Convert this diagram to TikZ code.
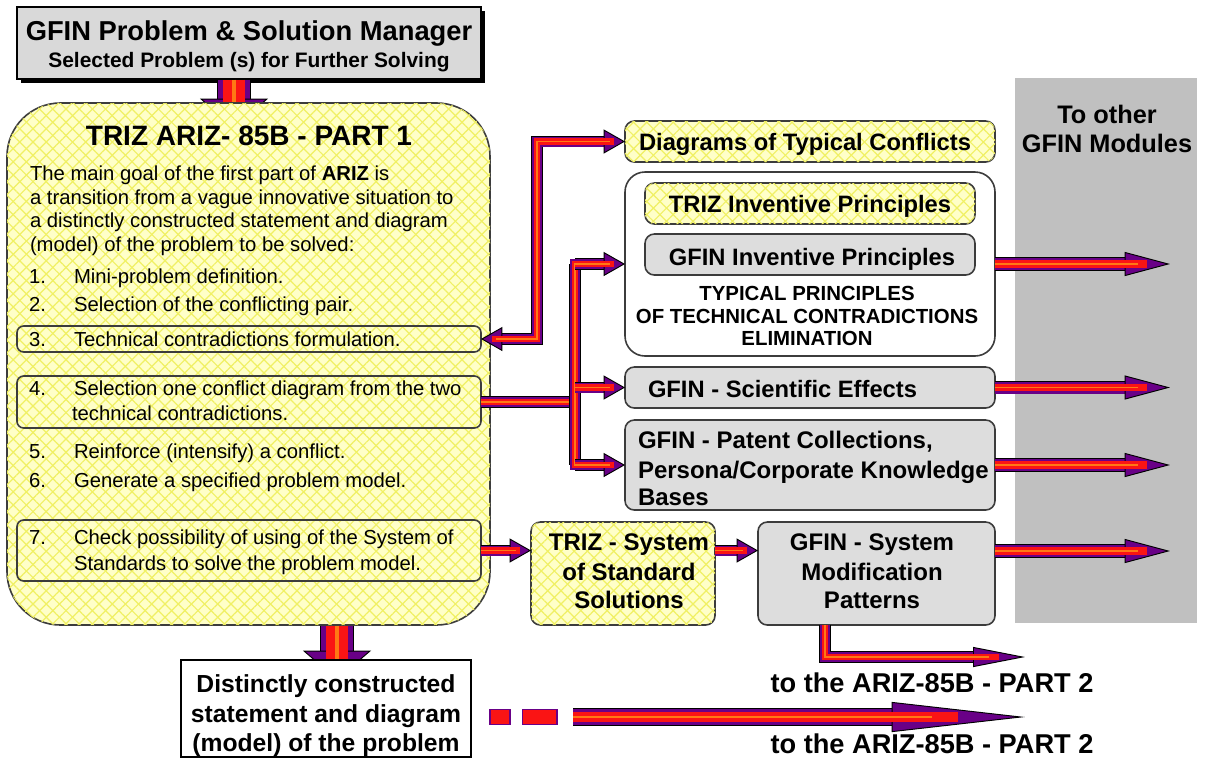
\documentclass[tikz,border=0pt]{standalone}
\usepackage{fontspec}
\setmainfont{Liberation Sans}
\usetikzlibrary{arrows.meta,patterns.meta,shadows}
\definecolor{arrpurple}{RGB}{105,0,135}
\definecolor{arrred}{RGB}{250,20,20}
\definecolor{arrorange}{RGB}{255,120,20}
\definecolor{yelbg}{RGB}{255,255,200}
\definecolor{yelline}{RGB}{240,240,100}
\definecolor{boxgray}{RGB}{221,221,221}
\definecolor{topgray}{RGB}{217,217,217}
\definecolor{bandgray}{RGB}{192,192,192}
\definecolor{edge}{RGB}{60,60,60}
\newcommand{\fTop}{\fontsize{20.5}{24}\selectfont\bfseries}
\newcommand{\fTopSub}{\fontsize{15.7}{18}\selectfont\bfseries}
\newcommand{\fTitle}{\fontsize{21}{26}\selectfont\bfseries}
\newcommand{\fBody}{\fontsize{15.2}{18}\selectfont}
\newcommand{\fBox}{\fontsize{17.8}{21}\selectfont\bfseries}
\newcommand{\fBoxB}{\fontsize{18}{21}\selectfont\bfseries}
\newcommand{\fBoxC}{\fontsize{18.5}{22}\selectfont\bfseries}
\newcommand{\fCaps}{\fontsize{15.3}{18}\selectfont\bfseries}
\newcommand{\fPart}{\fontsize{20.4}{24}\selectfont\bfseries}
\newcommand{\fBand}{\fontsize{19}{23}\selectfont\bfseries}
\tikzset{
  yel/.style={fill=yelbg,
    postaction={pattern={Lines[angle=45,distance=7pt,line width=0.9pt]}, pattern color=yelline},
    postaction={pattern={Lines[angle=-45,distance=7pt,line width=0.9pt]}, pattern color=yelline}},
  box/.style={draw=edge, line width=1.2pt, rounded corners=7pt, inner sep=0pt, outer sep=0pt},
  gbox/.style={box, fill=boxgray},
  ybox/.style={box, yel},
  itembox/.style={draw=edge, line width=1.2pt, rounded corners=5pt, inner sep=0pt, outer sep=0pt,
    minimum width=348pt},
  txt/.style={inner sep=0pt, outer sep=0pt},
  fat/.style n args={3}{draw=arrpurple, line width=#1,
    -{Triangle[length=#2,width=#3,line width=0.7pt,fill=arrpurple,color=black]},
    preaction={draw=black, line width=#1+1.2pt, -, shorten >=#2-0.3pt},
    postaction={draw=arrred, line width=0.66*#1, -, shorten >=0.5*#2},
    postaction={draw=arrorange, line width=0.12*#1, -, shorten >=0.7*#2}},
  fatboth/.style n args={3}{draw=arrpurple, line width=#1,
    {Triangle[length=#2,width=#3,line width=0.7pt,fill=arrpurple,color=black]}-{Triangle[length=#2,width=#3,line width=0.7pt,fill=arrpurple,color=black]},
    preaction={draw=black, line width=#1+1.2pt, -, shorten >=#2-0.3pt, shorten <=#2-0.3pt},
    postaction={draw=arrred, line width=0.66*#1, -, shorten >=0.5*#2, shorten <=0.5*#2},
    postaction={draw=arrorange, line width=0.12*#1, -, shorten >=0.7*#2, shorten <=0.7*#2}},
  fatline/.style={draw=arrpurple, line width=#1,
    preaction={draw=black, line width=#1+1.2pt},
    postaction={draw=arrred, line width=0.66*#1},
    postaction={draw=arrorange, line width=0.12*#1}},
  shortarr/.style={fat={7.5pt}{16pt}{18pt}},
  longarr/.style={fat={9pt}{34pt}{18pt}},
  downarr/.style={fat={24pt}{22pt}{51pt}},
  dashbox/.style={fill=arrred, draw=arrpurple, line width=1pt, inner sep=0pt, minimum height=11pt},
}
\begin{document}
\begin{tikzpicture}[x=0.75pt,y=-0.75pt]
\useasboundingbox (0,0) rectangle (1206,769);

% band
\node[fill=bandgray, inner sep=0pt, minimum width=136.5pt, minimum height=408.75pt] (band) at (1106,350.5) {};
\node[txt, anchor=base, font=\fBand] (bandt1) at (1107,123) {To other};
\node[txt, anchor=base, font=\fBand] (bandt2) at (1107,152) {GFIN Modules};

% top box
\node[draw=black, line width=1pt, fill=topgray, inner sep=0pt, minimum width=348pt, minimum height=54pt,
  drop shadow={shadow xshift=3pt, shadow yshift=-3pt, fill=black, opacity=1}] (top) at (249,43) {};
\node[txt, anchor=base, font=\fTop] (toptitle) at (249,40) {GFIN Problem \& Solution Manager};
\node[txt, anchor=base, font=\fTopSub] (topsub) at (249,67) {Selected Problem (s) for Further Solving};

% arrow down into main
\coordinate (dx1) at (234,0);
\coordinate (dend1) at (234,128);
\draw[downarr] (top.south -| dx1) -- (dend1);

% main box
\node[draw=edge, line width=1.2pt, rounded corners=40pt, yel, inner sep=0pt, minimum width=362.25pt, minimum height=391.5pt] (main) at (248.5,364) {};
\node[txt, anchor=base, font=\fTitle] (title) at (249,145) {TRIZ ARIZ- 85B - PART 1};
\node[txt, anchor=base west, font=\fBody] (p1) at (30,180) {The main goal of the first part of \textbf{ARIZ} is};
\node[txt, anchor=base west, font=\fBody] (p2) at (30,204) {a transition from a vague innovative situation to};
\node[txt, anchor=base west, font=\fBody] (p3) at (30,227) {a distinctly constructed statement and diagram};
\node[txt, anchor=base west, font=\fBody] (p4) at (30,251) {(model) of the problem to be solved:};

\node[itembox, minimum height=19.5pt] (item3box) at (249,339) {};
\node[itembox, minimum height=39pt] (item4box) at (249,402) {};
\node[itembox, minimum height=45.75pt] (item7box) at (249,550.5) {};

\node[txt, anchor=base west, font=\fBody] (n1) at (29,283) {1.};
\node[txt, anchor=base west, font=\fBody] (t1) at (74,283) {Mini-problem definition.};
\node[txt, anchor=base west, font=\fBody] (n2) at (29,311) {2.};
\node[txt, anchor=base west, font=\fBody] (t2) at (74,311) {Selection of the conflicting pair.};
\node[txt, anchor=base west, font=\fBody] (n3) at (29,346) {3.};
\node[txt, anchor=base west, font=\fBody] (t3) at (74,346) {Technical contradictions formulation.};
\node[txt, anchor=base west, font=\fBody] (n4) at (29,395) {4.};
\node[txt, anchor=base west, font=\fBody] (t4) at (74,395) {Selection one conflict diagram from the two};
\node[txt, anchor=base west, font=\fBody] (t4b) at (72,420) {technical contradictions.};
\node[txt, anchor=base west, font=\fBody] (n5) at (29,458) {5.};
\node[txt, anchor=base west, font=\fBody] (t5) at (74,458) {Reinforce (intensify) a conflict.};
\node[txt, anchor=base west, font=\fBody] (n6) at (29,487) {6.};
\node[txt, anchor=base west, font=\fBody] (t6) at (74,487) {Generate a specified problem model.};
\node[txt, anchor=base west, font=\fBody] (n7) at (29,544) {7.};
\node[txt, anchor=base west, font=\fBody] (t7) at (74,544) {Check possibility of using of the System of};
\node[txt, anchor=base west, font=\fBody] (t7b) at (74,570) {Standards to solve the problem model.};

% arrow down to bottom box
\coordinate (dx2) at (337,0);
\coordinate (dend2) at (337,680);
\draw[downarr] (main.south -| dx2) -- (dend2);

% bottom box
\node[draw=black, line width=1pt, fill=white, inner sep=0pt, minimum width=217.5pt, minimum height=72.75pt] (bottom) at (326,708.5) {};
\node[txt, anchor=base, font=\fBoxC] (b1) at (326,692) {Distinctly constructed};
\node[txt, anchor=base, font=\fBoxC] (b2) at (326,722) {statement and diagram};
\node[txt, anchor=base, font=\fBoxC] (b3) at (326,751) {(model) of the problem};

% right column boxes
\node[ybox, minimum width=277.5pt, minimum height=30.75pt] (diag) at (810,141.5) {};
\node[txt, anchor=base, font=\fBox] (diagt) at (805,150) {Diagrams of Typical Conflicts};

\node[box, fill=white, rounded corners=15pt, minimum width=277.5pt, minimum height=138pt] (bigbox) at (810,264) {};
\node[ybox, minimum width=247.5pt, minimum height=30.75pt] (trizip) at (810,203.5) {};
\node[txt, anchor=base, font=\fBox] (trizipt) at (810,212) {TRIZ Inventive Principles};
\node[gbox, minimum width=247.5pt, minimum height=30.75pt] (gfinip) at (810,254.5) {};
\node[txt, anchor=base, font=\fBox] (gfinipt) at (812,265) {GFIN Inventive Principles};
\node[txt, anchor=base, font=\fCaps] (c1) at (807,300) {TYPICAL PRINCIPLES};
\node[txt, anchor=base, font=\fCaps] (c2) at (807,323) {OF TECHNICAL CONTRADICTIONS};
\node[txt, anchor=base, font=\fCaps] (c3) at (807,345) {ELIMINATION};

\node[gbox, minimum width=277.5pt, minimum height=30.75pt] (sci) at (810,387.5) {};
\node[txt, anchor=base west, font=\fBox] (scit) at (648,397) {GFIN - Scientific Effects};

\node[gbox, minimum width=277.5pt, minimum height=67.5pt] (patent) at (810,465) {};
\node[txt, anchor=base west, font=\fBoxB] (pat1) at (638,448) {GFIN - Patent Collections,};
\node[txt, anchor=base west, font=\fBoxB] (pat2) at (638,478) {Persona/Corporate Knowledge};
\node[txt, anchor=base west, font=\fBoxB] (pat3) at (638,505) {Bases};

\node[ybox, minimum width=138pt, minimum height=77.25pt] (trizss) at (623,573.5) {};
\node[txt, anchor=base, font=\fBoxB] (ss1) at (629,550) {TRIZ - System};
\node[txt, anchor=base, font=\fBoxB] (ss2) at (629,580) {of Standard};
\node[txt, anchor=base, font=\fBoxB] (ss3) at (629,608) {Solutions};

\node[gbox, minimum width=177.75pt, minimum height=77.25pt] (gfinsys) at (876.5,573.5) {};
\node[txt, anchor=base, font=\fBoxB] (gs1) at (872,550) {GFIN - System};
\node[txt, anchor=base, font=\fBoxB] (gs2) at (872,580) {Modification};
\node[txt, anchor=base, font=\fBoxB] (gs3) at (872,608) {Patterns};

% connectors
\coordinate (cv) at (537,240);
\draw[fatboth={7.5pt}{16pt}{18pt}] (item3box.east) -| (cv) |- (diag.west);

\coordinate (jx) at (575,0);
\draw[fatline=7.5pt] (item4box.east) -- (item4box.east -| jx);
\draw[fatline=7.5pt, line cap=rect] (jx |- bigbox.west) -- (jx |- patent.west);
\draw[shortarr] (jx |- bigbox.west) -- (bigbox.west);
\draw[shortarr] (jx |- sci.west) -- (sci.west);
\draw[shortarr] (jx |- patent.west) -- (patent.west);

\draw[shortarr] (item7box.east) -- (item7box.east -| trizss.west);
\draw[shortarr] (trizss.east |- item7box.east) -- (gfinsys.west |- item7box.east);

\coordinate (e1) at (1170,264);
\coordinate (e2) at (1170,387.5);
\coordinate (e3) at (1170,465);
\coordinate (e4) at (1170,551);
\draw[longarr] (bigbox.east) -- (e1);
\draw[longarr] (sci.east) -- (e2);
\draw[longarr] (patent.east) -- (e3);
\draw[longarr] (gfinsys.east |- e4) -- (e4);

% to part 2
\coordinate (p2x) at (825,0);
\coordinate (p2end) at (1025,657);
\draw[fat={7.5pt}{39pt}{15pt}] (gfinsys.south -| p2x) |- (p2end);
\node[txt, anchor=base, font=\fPart] (part2a) at (932,692) {to the ARIZ-85B - PART 2};

\node[dashbox, minimum width=15pt] (d1) at (500,717) {};
\node[dashbox, minimum width=26pt] (d2) at (539.5,717) {};
\coordinate (bstart) at (573,717);
\coordinate (bend) at (1025,717);
\draw[fat={12pt}{100pt}{22.5pt}] (bstart) -- (bend);
\node[txt, anchor=base, font=\fPart] (part2b) at (932,753) {to the ARIZ-85B - PART 2};
\end{tikzpicture}
\end{document}
